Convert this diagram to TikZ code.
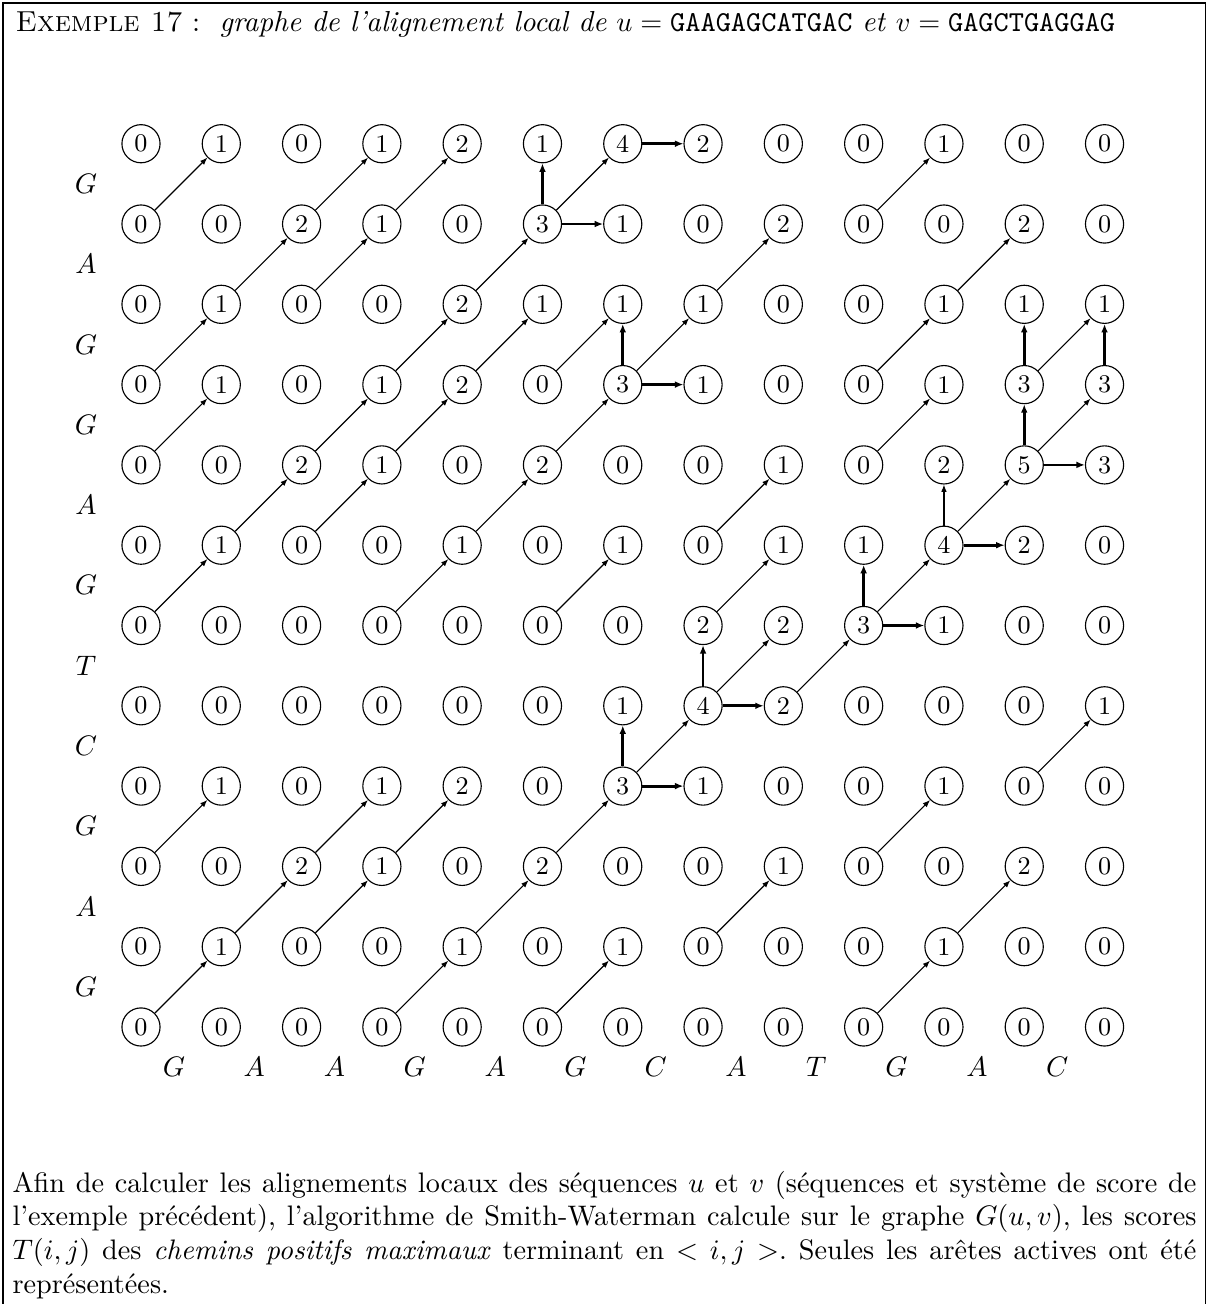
\documentclass[tikz,border=0pt]{standalone}
\usetikzlibrary{arrows.meta}
\frenchspacing

\begin{document}
\begin{tikzpicture}[
    cell/.style={draw, circle, line width=0.4pt, minimum size=0.475cm,
                 inner sep=0pt, font=\small},
    diag/.style={-{Latex[length=2.6pt,width=2pt]}, line width=0.4pt},
    gapedge/.style={-{Latex[length=3pt,width=2.4pt]}, line width=1pt},
    seqlab/.style={inner sep=0pt}]
    \useasboundingbox (-1.756,-3.450) rectangle (13.288,12.790);
    \draw[line width=0.6pt] (-1.719,-3.45) |- (13.256,12.753) -- (13.256,-3.45);

    \node[anchor=base west, inner sep=0pt, font=\fontsize{10.25}{12}\selectfont]
        (titre) at (-1.569,12.392)
        {\textsc{Exemple 17}~: \ \textit{graphe de l'alignement local de}
         $u=\texttt{GAAGAGCATGAC}$ \textit{et} $v=\texttt{GAGCTGAGGAG}$};

    % scores T(i,j), ligne par ligne
    \foreach \r/\vals in {
        11/{0,1,0,1,2,1,4,2,0,0,1,0,0},
        10/{0,0,2,1,0,3,1,0,2,0,0,2,0},
        9/{0,1,0,0,2,1,1,1,0,0,1,1,1},
        8/{0,1,0,1,2,0,3,1,0,0,1,3,3},
        7/{0,0,2,1,0,2,0,0,1,0,2,5,3},
        6/{0,1,0,0,1,0,1,0,1,1,4,2,0},
        5/{0,0,0,0,0,0,0,2,2,3,1,0,0},
        4/{0,0,0,0,0,0,1,4,2,0,0,0,1},
        3/{0,1,0,1,2,0,3,1,0,0,1,0,0},
        2/{0,0,2,1,0,2,0,0,1,0,0,2,0},
        1/{0,1,0,0,1,0,1,0,0,0,1,0,0},
        0/{0,0,0,0,0,0,0,0,0,0,0,0,0}} {
        \foreach \v [count=\c from 0] in \vals {
            \node[cell] (n\c-\r) at (\c,\r) {\v};
        }
    }

    \foreach \l [count=\i] in {G,A,G,C,T,G,A,G,G,A,G}
        \node[seqlab] (v\i) at (-0.685,\i-0.5) {$\l$};
    \foreach \l [count=\j] in {G,A,A,G,A,G,C,A,T,G,A,C}
        \node[seqlab] (u\j) at (\j-0.59,-0.5) {$\l$};

    % aretes diagonales
    \foreach \c/\r [evaluate=\c as \cc using int(\c+1),
                    evaluate=\r as \rr using int(\r+1)] in {
        0/0,3/0,5/0,9/0,
        1/1,2/1,4/1,7/1,10/1,
        0/2,2/2,3/2,5/2,9/2,
        6/3,11/3,
        7/4,8/4,
        0/5,3/5,5/5,7/5,9/5,
        1/6,2/6,4/6,7/6,10/6,
        0/7,2/7,3/7,5/7,9/7,11/7,
        0/8,3/8,4/8,5/8,6/8,9/8,11/8,
        1/9,2/9,4/9,7/9,10/9,
        0/10,2/10,3/10,5/10,9/10}
        \draw[diag] (n\c-\r) -- (n\cc-\rr);

    % aretes verticales et horizontales
    \foreach \c/\r [evaluate=\r as \rr using int(\r+1)] in
        {6/3,7/4,9/5,11/7,11/8,12/8,6/8,5/10}
        \draw[gapedge] (n\c-\r) -- (n\c-\rr);
    \draw[diag] (n10-6) -- (n10-7);
    \foreach \c/\r [evaluate=\c as \cc using int(\c+1)] in
        {6/3,7/4,9/5,10/6,11/7,6/8,5/10,6/11}
        \draw[gapedge] (n\c-\r) -- (n\cc-\r);

    \node[anchor=north west, text width=14.745cm, align=justify, inner sep=0pt]
        (texte) at (-1.607,-1.785)
        {Afin de calculer les alignements locaux des séquences $u$ et $v$
         (séquences et système de score de l'exemple précédent), l'algorithme
         de Smith-Waterman calcule sur le graphe $G(u,v)$, les scores $T(i,j)$
         des \textit{chemins positifs maximaux} terminant en $<i,j>$. Seules
         les arêtes actives ont été représentées.};
\end{tikzpicture}
\end{document}
